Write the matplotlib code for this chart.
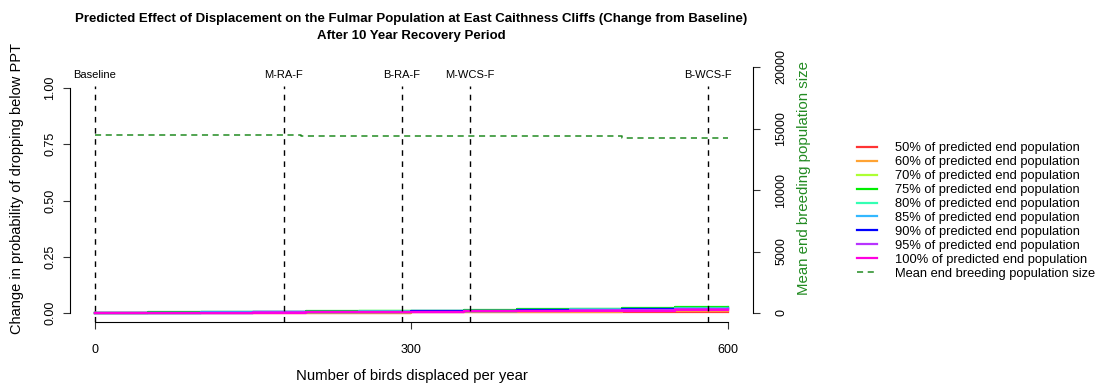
import matplotlib.pyplot as plt
import numpy as np

plt.rcParams["font.family"] = ["Liberation Sans", "DejaVu Sans"]

# birds displaced per year (step positions)
birds = [0, 25, 50, 75, 100, 150, 200, 250, 300, 350, 400, 450, 500, 550, 600]

# change in probability of dropping below PPT, per threshold
series = {
    "50% of predicted end population":  [0, 0, 0.000, 0.000, 0.001, 0.001, 0.001, 0.002, 0.003, 0.003, 0.004, 0.004, 0.005, 0.006, 0.006],
    "60% of predicted end population":  [0, 0, -0.001, -0.001, 0.001, 0.002, 0.002, 0.002, 0.003, 0.004, 0.004, 0.006, 0.007, 0.009, 0.010],
    "70% of predicted end population":  [0, 0.001, 0.002, 0.002, 0.003, 0.004, 0.006, 0.007, 0.009, 0.011, 0.014, 0.017, 0.020, 0.023, 0.025],
    "75% of predicted end population":  [0, 0.002, 0.003, 0.003, 0.003, 0.005, 0.007, 0.008, 0.011, 0.013, 0.016, 0.019, 0.022, 0.025, 0.027],
    "80% of predicted end population":  [0, 0.001, 0.002, 0.002, 0.003, 0.004, 0.005, 0.007, 0.009, 0.011, 0.013, 0.016, 0.019, 0.022, 0.024],
    "85% of predicted end population":  [0, 0.001, 0.002, 0.002, 0.003, 0.004, 0.005, 0.006, 0.008, 0.010, 0.012, 0.015, 0.018, 0.020, 0.022],
    "90% of predicted end population":  [0, 0.001, 0.002, 0.002, 0.002, 0.003, 0.005, 0.006, 0.008, 0.010, 0.012, 0.014, 0.016, 0.018, 0.020],
    "95% of predicted end population":  [0, 0.000, 0.001, 0.001, 0.002, 0.003, 0.004, 0.005, 0.006, 0.008, 0.010, 0.012, 0.014, 0.016, 0.017],
    "100% of predicted end population": [0, 0.000, 0.001, 0.001, 0.001, 0.002, 0.003, 0.004, 0.005, 0.007, 0.008, 0.010, 0.011, 0.013, 0.014],
}
colors = ["#FF3333", "#FFA333", "#ADFF33", "#00EE00", "#33FFB3", "#33B8FF", "#0000FF", "#B833FF", "#FF00E0"]

# mean end breeding population size
pop_birds = [0, 195, 500, 600]
pop_size = [14500, 14350, 14200, 14200]

# scenario markers
scen_names = ["Baseline", "M-RA-F", "B-RA-F", "M-WCS-F", "B-WCS-F"]
scen_birds = [0, 179, 291, 355, 581]

fig = plt.figure(figsize=(10.98, 3.85), dpi=100)
ax = fig.add_axes([70 / 1098, 63 / 385, 683 / 1098, 243 / 385])
ax2 = fig.add_axes([70 / 1098, 72 / 385, 683 / 1098, 246 / 385])
ax2.patch.set_visible(False)

for (name, vals), c in zip(series.items(), colors):
    ax.step(birds, vals, where="post", color=c, lw=1.6, label=name)

for name, b in zip(scen_names, scen_birds):
    ax.axvline(b, ymin=0, ymax=0.97, color="black", ls=(0, (4, 4)), lw=1)
    ax.text(b, 1.06, name, ha="center", va="center", fontsize=8,
            family=["Liberation Sans Narrow", "Liberation Sans"])

ax.set_xlim(-23.7, 623.7)
ax.set_ylim(-0.04, 1.04)
ax.set_xticks([0, 300, 600])
ax.set_yticks([0, 0.25, 0.5, 0.75, 1.0])
ax.set_yticklabels(["0.00", "0.25", "0.50", "0.75", "1.00"], rotation=90, va="center")
for s in ["top", "right"]:
    ax.spines[s].set_visible(False)
ax.spines["left"].set_bounds(0, 1)
ax.spines["bottom"].set_bounds(0, 600)
ax.tick_params(labelsize=9, length=5, color="#333333")
ax.tick_params(axis="x", pad=11)
ax.tick_params(axis="y", pad=5)
ax.set_xlabel("Number of birds displaced per year", fontsize=10.7, labelpad=9)
ax.set_ylabel("Change in probability of dropping below PPT", fontsize=10.5)
ax.yaxis.set_label_coords(-0.067, 0.55)

ax2.plot(pop_birds, pop_size, drawstyle="steps-post", color="#228B22", ls=(0, (4, 3)), lw=1.1,
         label="Mean end breeding population size")
ax2.set_xlim(-23.7, 623.7)
ax2.set_ylim(0, 20000)
ax2.set_xticks([])
for s in ["top", "left", "bottom"]:
    ax2.spines[s].set_visible(False)
ax2.yaxis.tick_right()
ax2.yaxis.set_label_position("right")
ax2.set_yticks([0, 5000, 10000, 15000, 20000])
ax2.set_yticklabels(["0", "5000", "10000", "15000", "20000"], rotation=90, va="center")
ax2.tick_params(labelsize=9, length=5, color="#333333", pad=11)
ax2.set_ylabel("Mean end breeding population size", fontsize=10.8, color="#228B22")
ax2.yaxis.set_label_coords(1.064, 0.55)

h1, l1 = ax.get_legend_handles_labels()
h2, l2 = ax2.get_legend_handles_labels()
fig.legend(h1 + h2, l1 + l2, loc="center left", bbox_to_anchor=(845 / 1098, 1 - 211 / 385),
           frameon=False, fontsize=9.3, handlelength=1.6, labelspacing=0.15, handletextpad=1.4)

fig.text(411 / 1098, 1 - 19 / 385,
         "Predicted Effect of Displacement on the Fulmar Population at East Caithness Cliffs (Change from Baseline)",
         ha="center", va="center", fontsize=9.5, fontweight="bold")
fig.text(411 / 1098, 1 - 36 / 385, "After 10 Year Recovery Period",
         ha="center", va="center", fontsize=9.5, fontweight="bold")

fig.savefig("out.png", dpi=100)
